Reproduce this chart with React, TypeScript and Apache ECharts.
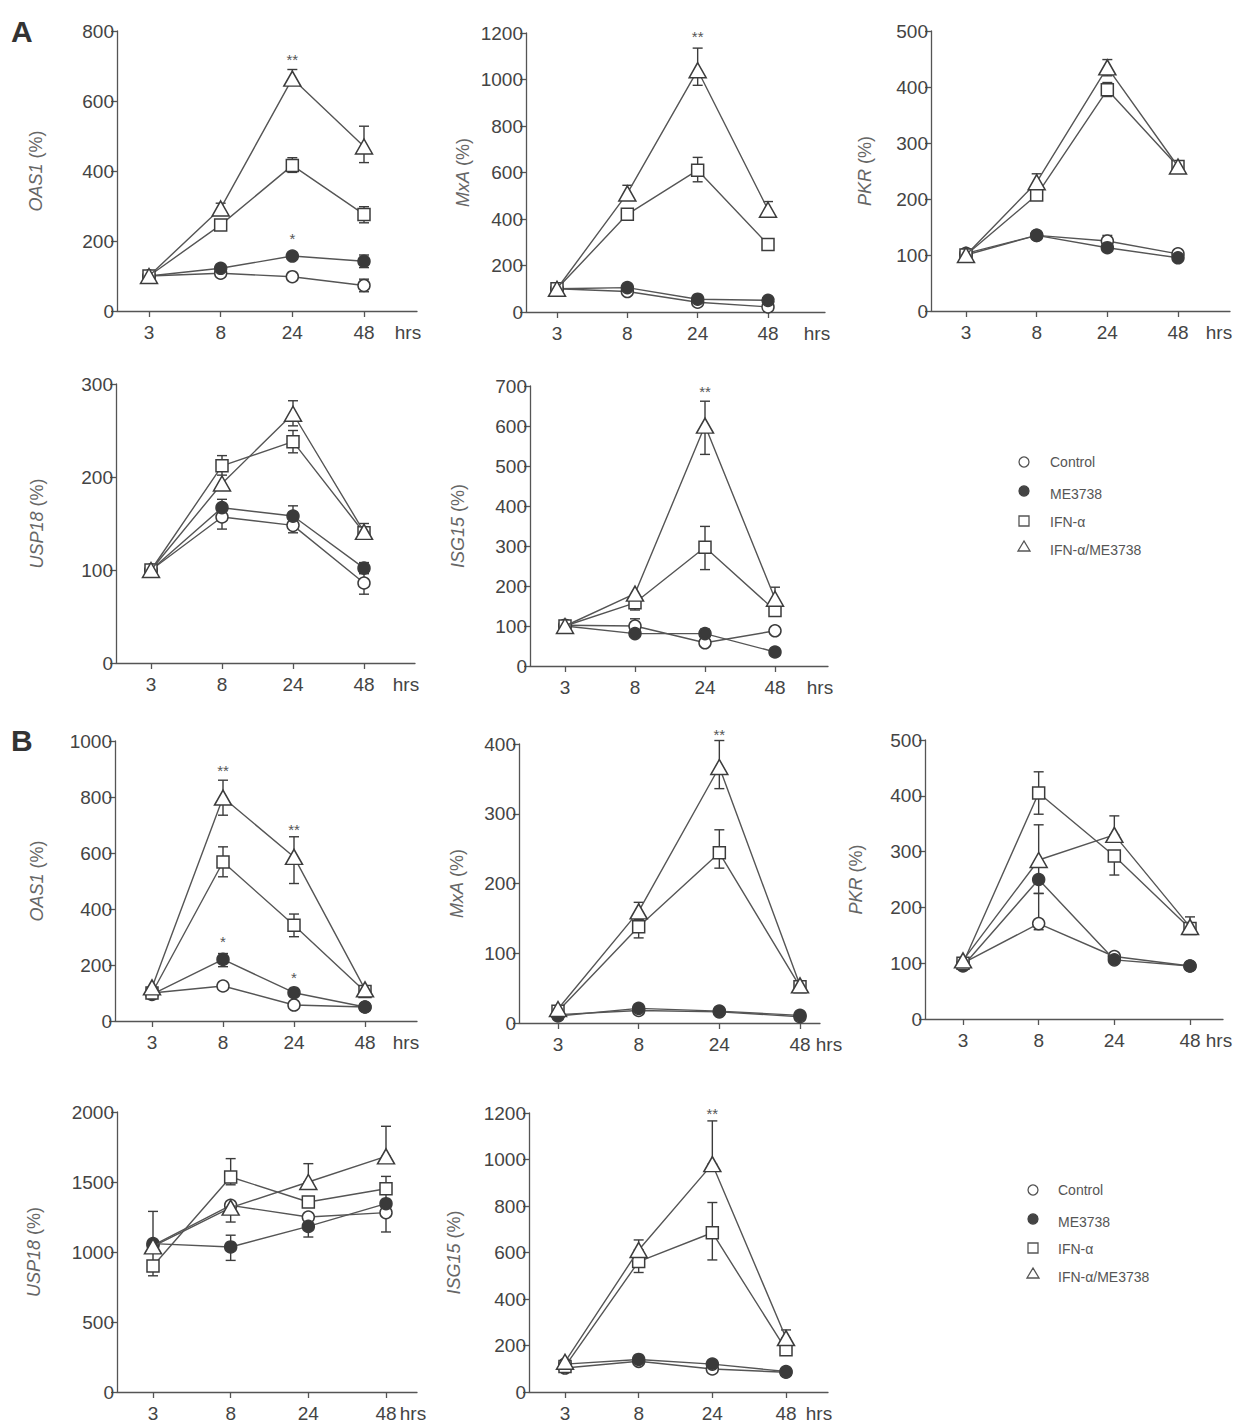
import React, { useEffect, useRef } from 'react';
import * as echarts from 'echarts';

// ---------- categories ----------
const hours = ['3', '8', '24', '48'];
const groupNames = ['Control', 'ME3738', 'IFN-α', 'IFN-α/ME3738'];

// ---------- Panel A : OAS1 ----------
const aOas1Control = [100, 108, 98, 73];
const aOas1Me = [100, 122, 157, 142];
const aOas1Ifn = [100, 246, 416, 276];
const aOas1Combo = [100, 293, 664, 470];
const aOas1Err = [[3, 55, 91], [3, 124, 160], [2, 148, 166], [2, 396, 438], [3, 252, 298], [1, 280, 308], [2, 648, 690], [3, 424, 528]];
const aOas1Stars = [[2, 720, 2], [2, 208, 1]];

// ---------- Panel A : MxA ----------
const aMxaControl = [100, 88, 42, 22];
const aMxaMe = [100, 105, 55, 50];
const aMxaIfn = [100, 420, 610, 290];
const aMxaCombo = [100, 510, 1040, 440];
const aMxaErr = [[2, 560, 665], [1, 495, 545], [2, 975, 1135], [3, 425, 475]];
const aMxaStars = [[2, 1185, 2]];

// ---------- Panel A : PKR ----------
const aPkrControl = [103, 135, 125, 102];
const aPkrMe = [100, 135, 113, 95];
const aPkrIfn = [100, 207, 395, 258];
const aPkrCombo = [100, 230, 435, 258];
const aPkrErr = [[1, 215, 245], [2, 420, 449], [2, 383, 408], [2, 117, 135]];
const aPkrStars: number[][] = [];

// ---------- Panel A : USP18 ----------
const aUspControl = [100, 157, 148, 86];
const aUspMe = [100, 167, 158, 102];
const aUspIfn = [100, 212, 238, 140];
const aUspCombo = [100, 193, 268, 141];
const aUspErr = [[1, 144, 170], [1, 160, 176], [1, 202, 223], [2, 140, 156], [2, 150, 169], [2, 226, 250], [2, 255, 282], [3, 74, 98], [3, 96, 108], [3, 134, 150]];
const aUspStars: number[][] = [];

// ---------- Panel A : ISG15 ----------
const aIsgControl = [102, 100, 58, 88];
const aIsgMe = [100, 81, 81, 35];
const aIsgIfn = [100, 158, 297, 139];
const aIsgCombo = [100, 181, 601, 168];
const aIsgErr = [[1, 140, 175], [1, 85, 118], [2, 241, 349], [2, 529, 662], [2, 70, 92], [3, 125, 197]];
const aIsgStars = [[2, 687, 2]];

// ---------- Panel B : OAS1 ----------
const bOas1Control = [100, 125, 57, 50];
const bOas1Me = [95, 220, 101, 50];
const bOas1Ifn = [100, 568, 342, 105];
const bOas1Combo = [120, 798, 586, 113];
const bOas1Err = [[1, 194, 241], [1, 515, 622], [1, 735, 860], [2, 301, 382], [2, 491, 658]];
const bOas1Stars = [[1, 893, 2], [2, 685, 2], [1, 283, 1], [2, 155, 1]];

// ---------- Panel B : MxA ----------
const bMxaControl = [12, 18, 16, 9];
const bMxaMe = [10, 21, 17, 11];
const bMxaIfn = [17, 138, 244, 52];
const bMxaCombo = [20, 160, 367, 54];
const bMxaErr = [[1, 122, 148], [1, 148, 173], [2, 222, 277], [2, 336, 405], [3, 46, 58]];
const bMxaStars = [[2, 413, 2]];

// ---------- Panel B : PKR ----------
const bPkrControl = [100, 171, 112, 95];
const bPkrMe = [95, 250, 106, 95];
const bPkrIfn = [100, 405, 292, 162];
const bPkrCombo = [105, 285, 330, 165];
const bPkrErr = [[1, 367, 443], [1, 225, 348], [1, 160, 225], [2, 258, 292], [2, 330, 364], [3, 152, 183]];
const bPkrStars: number[][] = [];

// ---------- Panel B : USP18 ----------
const bUspControl = [1048, 1333, 1250, 1281];
const bUspMe = [1060, 1036, 1183, 1345];
const bUspIfn = [900, 1536, 1357, 1452];
const bUspCombo = [1040, 1317, 1500, 1683];
const bUspErr = [[0, 830, 1290], [1, 940, 1120], [1, 1480, 1667], [1, 1214, 1317], [2, 1107, 1183], [2, 1500, 1631], [3, 1143, 1281], [3, 1683, 1898], [3, 1345, 1540]];
const bUspStars: number[][] = [];

// ---------- Panel B : ISG15 ----------
const bIsgControl = [103, 132, 99, 85];
const bIsgMe = [120, 140, 120, 88];
const bIsgIfn = [110, 561, 685, 182];
const bIsgCombo = [130, 611, 980, 232];
const bIsgErr = [[1, 514, 561], [1, 611, 654], [2, 568, 815], [2, 980, 1166], [3, 232, 267]];
const bIsgStars = [[2, 1200, 2]];

// ---------- axis settings ----------
const genes = ['OAS1', 'MxA', 'PKR', 'USP18', 'ISG15', 'OAS1', 'MxA', 'PKR', 'USP18', 'ISG15'];
const yMaxes = [800, 1200, 500, 300, 700, 1000, 400, 500, 2000, 1200];
const ySteps = [200, 200, 100, 100, 100, 200, 100, 100, 500, 200];

const panelSeries = [
  [aOas1Control, aOas1Me, aOas1Ifn, aOas1Combo],
  [aMxaControl, aMxaMe, aMxaIfn, aMxaCombo],
  [aPkrControl, aPkrMe, aPkrIfn, aPkrCombo],
  [aUspControl, aUspMe, aUspIfn, aUspCombo],
  [aIsgControl, aIsgMe, aIsgIfn, aIsgCombo],
  [bOas1Control, bOas1Me, bOas1Ifn, bOas1Combo],
  [bMxaControl, bMxaMe, bMxaIfn, bMxaCombo],
  [bPkrControl, bPkrMe, bPkrIfn, bPkrCombo],
  [bUspControl, bUspMe, bUspIfn, bUspCombo],
  [bIsgControl, bIsgMe, bIsgIfn, bIsgCombo],
];
const panelErrors = [aOas1Err, aMxaErr, aPkrErr, aUspErr, aIsgErr, bOas1Err, bMxaErr, bPkrErr, bUspErr, bIsgErr];
const panelStars = [aOas1Stars, aMxaStars, aPkrStars, aUspStars, aIsgStars, bOas1Stars, bMxaStars, bPkrStars, bUspStars, bIsgStars];

// ---------- layout (pixels) ----------
const layouts = [
  { yx: 117, top: 31, bottom: 311, t3: 149, t48: 364, xEnd: 417, hrsX: 408, nameGap: 72 },
  { yx: 526, top: 33, bottom: 312, t3: 557, t48: 768, xEnd: 825, hrsX: 817, nameGap: 54 },
  { yx: 931, top: 31, bottom: 311, t3: 966, t48: 1178, xEnd: 1230, hrsX: 1219, nameGap: 57 },
  { yx: 116, top: 384, bottom: 663, t3: 151, t48: 364, xEnd: 415, hrsX: 406, nameGap: 70 },
  { yx: 530, top: 386, bottom: 666, t3: 565, t48: 775, xEnd: 828, hrsX: 820, nameGap: 63 },
  { yx: 115, top: 741, bottom: 1021, t3: 152, t48: 365, xEnd: 417, hrsX: 406, nameGap: 69 },
  { yx: 519, top: 744, bottom: 1023, t3: 558, t48: 800, xEnd: 820, hrsX: 829, nameGap: 53 },
  { yx: 925, top: 740, bottom: 1019, t3: 963, t48: 1190, xEnd: 1223, hrsX: 1219, nameGap: 60 },
  { yx: 117, top: 1112, bottom: 1392, t3: 153, t48: 386, xEnd: 417, hrsX: 413, nameGap: 74 },
  { yx: 529, top: 1113, bottom: 1392, t3: 565, t48: 786, xEnd: 828, hrsX: 819, nameGap: 66 },
];

const FONT = 'Liberation Sans, Arial, sans-serif';
const INK = '#3c3c3c';
const LINE = '#555';
const TEXT = '#444';
const NAME = '#666';

const markerStyles = [
  { symbol: 'circle', size: 12, fill: '#fff' },
  { symbol: 'circle', size: 12, fill: '#3a3a3a' },
  { symbol: 'rect', size: 12, fill: '#fff' },
  { symbol: 'triangle', size: [17, 15], fill: '#fff' },
];

function buildOption() {
  const grid: any[] = [];
  const xAxis: any[] = [];
  const yAxis: any[] = [];
  const series: any[] = [];
  const graphic: any[] = [];

  layouts.forEach((L, i) => {
    const s = (L.t48 - L.t3) / 3;
    const xMin = (L.yx - L.t3) / s;
    const xMax = 3 + (L.xEnd - L.t48) / s;
    grid.push({ left: L.yx, top: L.top, width: L.xEnd - L.yx, height: L.bottom - L.top, outerBoundsMode: 'none', containLabel: false });
    xAxis.push({
      gridIndex: i, type: 'value', min: xMin, max: xMax,
      axisLine: { show: true, onZero: false, lineStyle: { color: LINE, width: 1.3 } },
      axisTick: { show: true, customValues: [0, 1, 2, 3], length: 6, lineStyle: { color: LINE, width: 1.3 } },
      axisLabel: { customValues: [0, 1, 2, 3], formatter: (v: number) => hours[Math.round(v)], margin: 12, color: TEXT, fontSize: 19, fontFamily: FONT },
      splitLine: { show: false },
    });
    yAxis.push({
      gridIndex: i, type: 'value', min: 0, max: yMaxes[i], interval: ySteps[i],
      name: `{i|${genes[i]}}{n| (%)}`, nameLocation: 'middle', nameGap: L.nameGap, nameRotate: 90,
      nameTextStyle: {
        rich: {
          i: { fontStyle: 'italic', fontSize: 18, color: NAME, fontFamily: FONT },
          n: { fontSize: 18, color: NAME, fontFamily: FONT },
        },
      },
      axisLine: { show: true, onZero: false, lineStyle: { color: LINE, width: 1.3 } },
      axisTick: { show: true, length: 6, lineStyle: { color: LINE, width: 1.3 } },
      axisLabel: { margin: 3, color: TEXT, fontSize: 19, fontFamily: FONT, formatter: (v: number) => String(v) },
      splitLine: { show: false },
    });

    // error bars
    series.push({
      type: 'custom', xAxisIndex: i, yAxisIndex: i, z: 1, silent: true,
      data: panelErrors[i],
      renderItem: (_p: any, api: any) => {
        const x = api.value(0);
        const lo = api.coord([x, api.value(1)]);
        const hi = api.coord([x, api.value(2)]);
        const w = 5;
        const st = { stroke: INK, lineWidth: 1.4 };
        return {
          type: 'group',
          children: [
            { type: 'line', shape: { x1: lo[0], y1: lo[1], x2: hi[0], y2: hi[1] }, style: st },
            { type: 'line', shape: { x1: hi[0] - w, y1: hi[1], x2: hi[0] + w, y2: hi[1] }, style: st },
            { type: 'line', shape: { x1: lo[0] - w, y1: lo[1], x2: lo[0] + w, y2: lo[1] }, style: st },
          ],
        };
      },
    });

    // data lines
    panelSeries[i].forEach((vals, k) => {
      const m = markerStyles[k];
      series.push({
        type: 'line', name: groupNames[k], xAxisIndex: i, yAxisIndex: i, z: 3 + k,
        data: vals.map((v, j) => [j, v]),
        symbol: m.symbol, symbolSize: m.size, showAllSymbol: true,
        itemStyle: { color: m.fill, borderColor: INK, borderWidth: 1.5 },
        lineStyle: { color: LINE, width: 1.4 },
        emphasis: { disabled: true },
        silent: true,
      });
    });

    // significance asterisks
    if (panelStars[i].length) {
      series.push({
        type: 'custom', xAxisIndex: i, yAxisIndex: i, z: 10, silent: true,
        data: panelStars[i],
        renderItem: (_p: any, api: any) => {
          const pt = api.coord([api.value(0), api.value(1)]);
          return {
            type: 'text', x: pt[0], y: pt[1],
            style: { text: '*'.repeat(api.value(2)), fill: '#555', font: `15px ${FONT}`, textAlign: 'center', textVerticalAlign: 'middle' },
          };
        },
      });
    }

    graphic.push({
      type: 'text', x: L.hrsX, y: L.bottom + 21,
      style: { text: 'hrs', fill: TEXT, font: `19px ${FONT}`, textAlign: 'center', textVerticalAlign: 'middle' },
    });
  });

  // panel letters
  graphic.push({ type: 'text', x: 11, y: 31, style: { text: 'A', fill: '#333', font: `bold 30px ${FONT}`, textVerticalAlign: 'middle' } });
  graphic.push({ type: 'text', x: 11, y: 740, style: { text: 'B', fill: '#333', font: `bold 30px ${FONT}`, textVerticalAlign: 'middle' } });

  // legends
  const legendBlocks = [
    { sx: 1024, tx: 1050, rows: [462, 494, 522, 550] },
    { sx: 1033, tx: 1058, rows: [1190, 1222, 1249, 1277] },
  ];
  legendBlocks.forEach((lb) => {
    const st = { stroke: '#555', lineWidth: 1.3, fill: '#fff' };
    graphic.push({ type: 'circle', shape: { cx: lb.sx, cy: lb.rows[0], r: 5 }, style: st });
    graphic.push({ type: 'circle', shape: { cx: lb.sx, cy: lb.rows[1] - 3, r: 5 }, style: { ...st, fill: '#444', stroke: '#444' } });
    graphic.push({ type: 'rect', shape: { x: lb.sx - 5, y: lb.rows[2] - 6, width: 10, height: 10 }, style: st });
    graphic.push({ type: 'polygon', shape: { points: [[lb.sx, lb.rows[3] - 9], [lb.sx - 6, lb.rows[3] + 1], [lb.sx + 6, lb.rows[3] + 1]] }, style: st });
    groupNames.forEach((g, k) => {
      graphic.push({ type: 'text', x: lb.tx, y: lb.rows[k], style: { text: g, fill: '#555', font: `14px ${FONT}`, textVerticalAlign: 'middle' } });
    });
  });

  return {
    animation: false,
    backgroundColor: '#fff',
    grid, xAxis, yAxis, series, graphic,
  };
}

export default function App() {
  const ref = useRef<HTMLDivElement>(null);
  useEffect(() => {
    document.body.style.margin = '0';
    if (!ref.current) return;
    const chart = echarts.init(ref.current, null, { renderer: 'svg' });
    chart.setOption(buildOption() as any);
    return () => chart.dispose();
  }, []);
  return <div ref={ref} style={{ width: 1236, height: 1426 }} />;
}
